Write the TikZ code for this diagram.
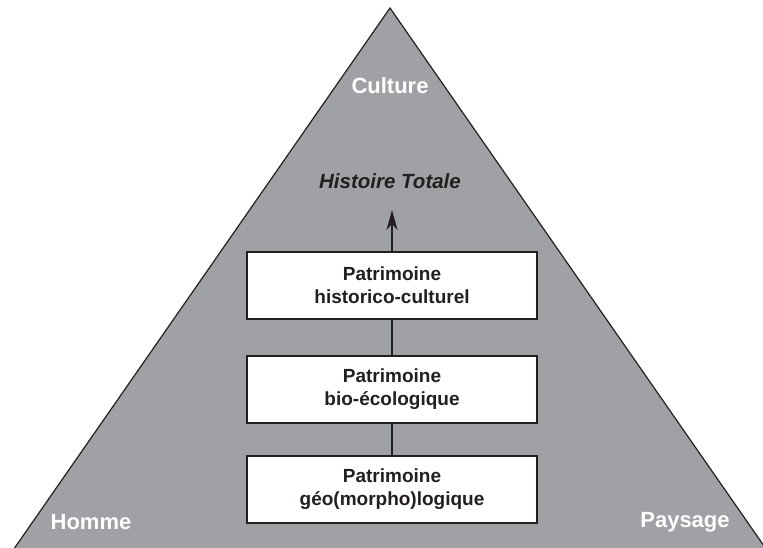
\documentclass[tikz,border=0pt]{standalone}
\usepackage{fontspec}
\setmainfont{Liberation Sans}
\usetikzlibrary{arrows.meta}
\definecolor{pyrgray}{RGB}{160,161,165}
\definecolor{inkdark}{RGB}{35,31,32}
\tikzset{
  boxnode/.style={draw=inkdark, line width=2pt, fill=white, minimum width=290pt, minimum height=67pt, inner sep=0pt, align=center, text=inkdark, font=\bfseries\fontsize{19}{23}\selectfont},
  cornerlabel/.style={text=white, font=\bfseries\fontsize{22}{26}\selectfont, inner sep=0pt},
  link/.style={draw=inkdark, line width=1.5pt}
}
\begin{document}
\begin{tikzpicture}[x=1pt,y=-1pt]
\useasboundingbox (0,0) rectangle (763,548);
\coordinate (apex) at (390,8);
\coordinate (bl) at (9,556);
\coordinate (br) at (771,556);
\draw[fill=pyrgray, draw=inkdark, line width=1.2pt] (bl) -- (apex) -- (br) -- cycle;
\node[cornerlabel] (culture) at (390,86) {Culture};
\node[cornerlabel] (homme) at (91,522) {Homme};
\node[cornerlabel] (paysage) at (685,522) {Paysage};
\node[text=inkdark, font=\bfseries\itshape\fontsize{20.5}{24}\selectfont, inner sep=0pt] (histoire) at (390,181) {Histoire Totale};
\node[boxnode] (hist) at (392,285.5) {Patrimoine\\historico-culturel};
\node[boxnode] (bio) at (392,389.5) {Patrimoine\\bio-écologique};
\node[boxnode] (geo) at (392,489) {Patrimoine\\géo(morpho)logique};
\coordinate (tip) at (392,210);
\draw[link] (geo.north) -- (bio.south);
\draw[link] (bio.north) -- (hist.south);
\draw[link, -{Stealth[length=20pt,width=11pt,inset=6pt]}] (hist.north) -- (tip);
\end{tikzpicture}
\end{document}
